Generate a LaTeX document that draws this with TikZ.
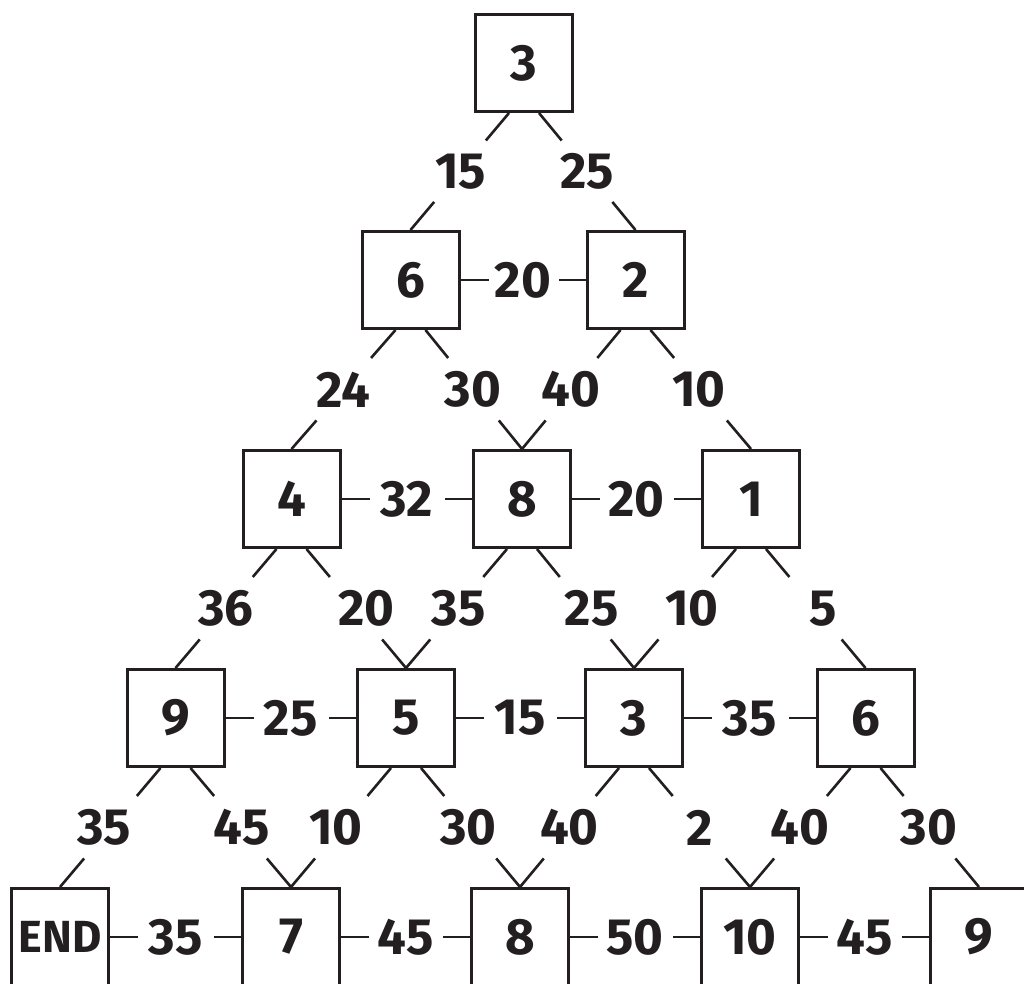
\documentclass[tikz,border=0pt]{standalone}
\usepackage{fontspec}
\usetikzlibrary{calc}
\setmainfont{Fira Sans}
\definecolor{ink}{HTML}{231F20}
\newcommand{\dgfont}{\fontsize{51}{60}\selectfont\bfseries}
\newcommand{\wordfont}{\fontsize{45}{54}\selectfont\bfseries}
% diagonal connector: from #1 to #2, label #3 shifted by #4, label node named #5
\newcommand{\dconn}[5]{%
  \draw[dedge] (#1) -- ($(#1)!.235!(#2)$) ($(#2)!.24!(#1)$) -- (#2);
  \path (#1) -- node[lbl, xshift=#4] (#5) {#3} (#2);}
% horizontal connector between boxes #1 and #2, label #3 named #4
\newcommand{\hconn}[4]{%
  \draw[dedge] (#1.east) -- ++(28,0) (#2.west) -- ++(-27,0);
  \path (#1.east) -- node[lbl] (#4) {#3} (#2.west);}
\begin{document}
\begin{tikzpicture}[x=1pt,y=-1pt,
  box/.style={draw=ink, line width=3pt, minimum size=97pt, inner sep=0pt, text=ink, font=\dgfont},
  lbl/.style={text=ink, font=\dgfont, inner sep=0pt},
  dedge/.style={draw=ink, line width=2.6pt}]
\useasboundingbox (0,0) rectangle (1024,983);
\clip (0,0) rectangle (1024,983);
% boxes
\node[box] (A1) at (524,63) {3};
\node[box] (B1) at (410.5,280) {6};
\node[box] (B2) at (635.5,280) {2};
\node[box] (C1) at (291.5,499) {4};
\node[box] (C2) at (522,499) {8};
\node[box] (C3) at (751,499) {1};
\node[box] (D1) at (175.5,718) {9};
\node[box] (D2) at (406,718) {5};
\node[box] (D3) at (634,718) {3};
\node[box] (D4) at (865.5,718) {6};
\node[box, font=\wordfont] (E1) at (60,937) {END};
\node[box] (E2) at (291,937) {7};
\node[box] (E3) at (520,937) {8};
\node[box] (E4) at (750,937) {10};
\node[box] (E5) at (979,937) {9};
% attachment points under each parent box
\foreach \b in {A1,B1,B2,C1,C2,C3,D1,D2,D3,D4}{
  \coordinate (\b-l) at ([xshift=-15pt]\b.south);
  \coordinate (\b-r) at ([xshift=15pt]\b.south);
}
% diagonal connectors
\dconn{A1-l}{B1.north}{15}{1pt}{w1}
\dconn{A1-r}{B2.north}{25}{0pt}{w2}
\dconn{B1-l}{C1.north}{24}{0pt}{w3}
\dconn{B1-r}{C2.north}{30}{-1pt}{w4}
\dconn{B2-l}{C2.north}{40}{0pt}{w5}
\dconn{B2-r}{C3.north}{10}{-2pt}{w6}
\dconn{C1-l}{D1.north}{36}{0pt}{w7}
\dconn{C1-r}{D2.north}{20}{10pt}{w8}
\dconn{C2-l}{D2.north}{35}{2pt}{w9}
\dconn{C2-r}{D3.north}{25}{6pt}{w10}
\dconn{C3-l}{D3.north}{10}{7pt}{w11}
\dconn{C3-r}{D4.north}{5}{7pt}{w12}
\dconn{D1-l}{E1.north}{35}{-6pt}{w13}
\dconn{D1-r}{E2.north}{45}{1pt}{w14}
\dconn{D2-l}{E2.north}{10}{-5pt}{w15}
\dconn{D2-r}{E3.north}{30}{-2pt}{w16}
\dconn{D3-l}{E3.north}{40}{0pt}{w17}
\dconn{D3-r}{E4.north}{2}{0pt}{w18}
\dconn{D4-l}{E4.north}{40}{0pt}{w19}
\dconn{D4-r}{E5.north}{30}{-1pt}{w20}
% horizontal connectors
\hconn{B1}{B2}{20}{h1}
\hconn{C1}{C2}{32}{h2}
\hconn{C2}{C3}{20}{h3}
\hconn{D1}{D2}{25}{h4}
\hconn{D2}{D3}{15}{h5}
\hconn{D3}{D4}{35}{h6}
\hconn{E1}{E2}{35}{h7}
\hconn{E2}{E3}{45}{h8}
\hconn{E3}{E4}{50}{h9}
\hconn{E4}{E5}{45}{h10}
\end{tikzpicture}
\end{document}
